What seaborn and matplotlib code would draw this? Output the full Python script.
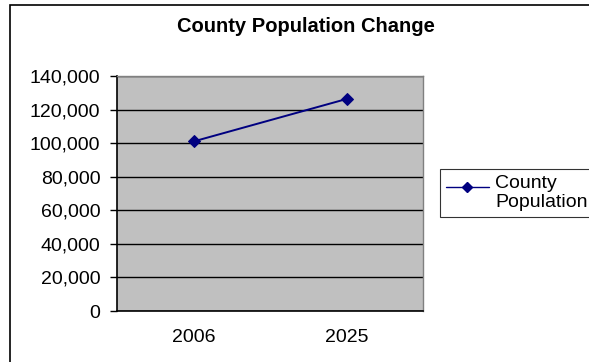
import numpy as np
import matplotlib.pyplot as plt
import pandas as pd
import seaborn as sns
from matplotlib.patches import Rectangle
from matplotlib.ticker import FuncFormatter
from matplotlib.legend_handler import HandlerLine2D

# data
years = ['2006', '2025']
population = [101000, 126300]
series_name = 'County Population'

df = pd.DataFrame({'year': years, 'pop': population, 'serie': series_name})

sns.set_style('white')
plt.rcParams['font.family'] = ['Liberation Sans', 'DejaVu Sans']
plt.rcParams['text.color'] = 'black'
plt.rcParams['xtick.color'] = 'black'
plt.rcParams['ytick.color'] = 'black'
plt.rcParams['axes.labelcolor'] = 'black'

fig = plt.figure(figsize=(5.89, 3.62), dpi=100)
fig.patch.set_facecolor('white')

# marco exterior (cortado a la derecha y abajo, como en la captura)
fig.patches.append(Rectangle((10 / 589, -0.05), 1.2, (362 - 5) / 362 + 0.05,
                             transform=fig.transFigure, fill=False,
                             edgecolor='black', lw=1.2, clip_on=False))

ax = fig.add_axes([117 / 589, (362 - 311) / 362, 306 / 589, 235 / 362])
ax.set_facecolor('#c0c0c0')

sns.lineplot(data=df, x='year', y='pop', hue='serie', palette=['#000080'],
             marker='D', markersize=6, markeredgecolor='#000080', lw=1.4,
             ax=ax, legend=False)

ax.set_xlim(-0.5, 1.5)
ax.set_ylim(0, 140000)
ax.set_yticks(np.arange(0, 140001, 20000))
ax.yaxis.set_major_formatter(FuncFormatter(lambda v, p: f'{int(v):,}'))
ax.grid(axis='y', color='black', lw=1)
ax.grid(axis='x', visible=False)
ax.set_axisbelow(True)

ax.set_xticks([0, 1])
ax.set_xticklabels(years)
ax.set_xticks([-0.5, 0.5, 1.5], minor=True)
ax.tick_params(axis='x', which='major', length=0, pad=13, labelsize=14,
               labelcolor='black')
ax.tick_params(axis='x', which='minor', length=5, direction='out', width=1,
               color='black')
ax.tick_params(axis='y', length=5, direction='out', width=1, labelsize=14,
               left=True, pad=7, color='black', labelcolor='black')
ax.set_xlabel('')
ax.set_ylabel('')

for s in ['left', 'bottom']:
    ax.spines[s].set_color('black')
    ax.spines[s].set_linewidth(1.2)
for s in ['right', 'top']:
    ax.spines[s].set_color('#808080')
    ax.spines[s].set_linewidth(1)

fig.text(306 / 589, (362 - 26) / 362, 'County Population Change', ha='center',
         va='center', fontsize=14.5, weight='bold', color='black')


# la marca de la leyenda va a la altura de la primera linea
class HandlerArriba(HandlerLine2D):
    def create_artists(self, legend, orig_handle, xdescent, ydescent,
                       width, height, fontsize, trans):
        return super().create_artists(legend, orig_handle, xdescent,
                                      ydescent - 8.5, width, height,
                                      fontsize, trans)


h, = ax.plot([], [], color='#000080', marker='D', markersize=5, lw=1)
leg = fig.legend([h], ['County\nPopulation'], loc='upper left',
                 bbox_to_anchor=(440 / 589, (362 - 169) / 362),
                 frameon=True, fancybox=False, fontsize=14, handlelength=2.2,
                 handletextpad=0.35, borderpad=0.3, borderaxespad=0,
                 handler_map={h: HandlerArriba()}, labelcolor='black')
leg.get_frame().set_edgecolor('black')
leg.get_frame().set_linewidth(0.8)

plt.savefig('out.png', dpi=100)
